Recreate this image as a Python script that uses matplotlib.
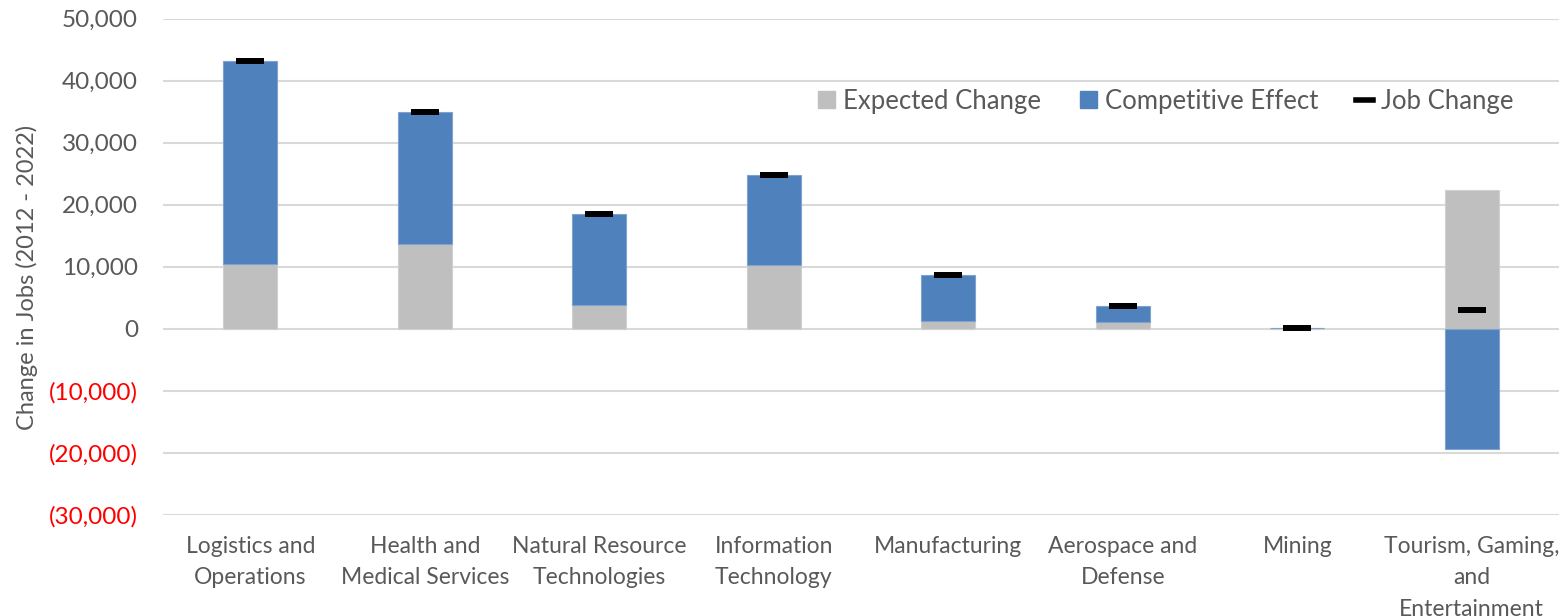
import matplotlib
matplotlib.use("Agg")
import matplotlib.pyplot as plt
from matplotlib.ticker import FuncFormatter
from matplotlib.lines import Line2D
from matplotlib.patches import Patch
import numpy as np

categories = ["Logistics and\nOperations", "Health and\nMedical Services", "Natural Resource\nTechnologies",
              "Information\nTechnology", "Manufacturing", "Aerospace and\nDefense", "Mining",
              "Tourism, Gaming,\nand\nEntertainment"]
expected_change = [10400, 13700, 3800, 10300, 1250, 1080, 50, 22400]
competitive_effect = [32750, 21250, 14700, 14500, 7400, 2600, 100, -19400]
job_change = [43150, 34950, 18500, 24800, 8650, 3680, 150, 3000]
y_ticks = [-30000, -20000, -10000, 0, 10000, 20000, 30000, 40000, 50000]

plt.rcParams['font.family'] = ['Lato', 'DejaVu Sans']
DPI = 100
fig = plt.figure(figsize=(15.59, 6.16), dpi=DPI)
ax = fig.add_axes([0.1046, 0.1644, 0.8954, 0.8052])

x = np.arange(len(categories))
w = 0.31
gray = "#bfbfbf"
blue = "#4f81bd"
exp = np.array(expected_change)
comp = np.array(competitive_effect)
bottoms = np.where(comp >= 0, np.maximum(exp, 0), np.minimum(exp, 0))
ax.bar(x, exp, width=w, color=gray, edgecolor="#d0d0d0", linewidth=0.8, zorder=2)
ax.bar(x, comp, width=w, bottom=bottoms, color=blue, edgecolor="#7fa3d0", linewidth=0.8, zorder=2)
ax.plot(x, job_change, linestyle="none", marker="_", color="black",
        markersize=27 * 72 / DPI, markeredgewidth=6 * 72 / DPI, zorder=3)

ax.set_xlim(-0.5, len(categories) - 0.5)
ax.set_ylim(-30000, 50000)
ax.set_yticks(y_ticks)
ax.yaxis.grid(True, color="#d9d9d9", linewidth=1.5, zorder=0)
ax.set_axisbelow(True)
for s in ax.spines.values():
    s.set_visible(False)
ax.tick_params(axis="both", length=0)
ax.tick_params(axis="y", pad=18, labelsize=17.5, labelcolor="#595959")


def fmt(v, pos):
    if v < 0:
        return "({:,.0f})".format(-v)
    return "{:,.0f}".format(v)


ax.yaxis.set_major_formatter(FuncFormatter(fmt))
for lab, v in zip(ax.get_yticklabels(), y_ticks):
    lab.set_color("#ff0000" if v < 0 else "#595959")

ax.set_xticks(x)
ax.set_xticklabels(categories, fontsize=16.5, color="#595959", linespacing=1.62)
ax.tick_params(axis="x", pad=15)

ax.set_ylabel("Change in Jobs (2012 - 2022)", fontsize=17, color="#595959")
ax.yaxis.set_label_coords(-0.0895, 0.479)

handles = [Patch(facecolor=gray, edgecolor=gray),
           Patch(facecolor=blue, edgecolor=blue),
           Line2D([0], [0], color="black", linewidth=4, linestyle="-")]
leg = ax.legend(handles, ["Expected Change", "Competitive Effect", "Job Change"],
                loc="center", bbox_to_anchor=(0.7185, 0.834), ncol=3, frameon=False,
                fontsize=18.5, labelcolor="#595959", handlelength=0.66, handleheight=0.66,
                handletextpad=0.31, columnspacing=1.5, borderpad=0, borderaxespad=0)

fig.savefig("out.png", dpi=DPI)
